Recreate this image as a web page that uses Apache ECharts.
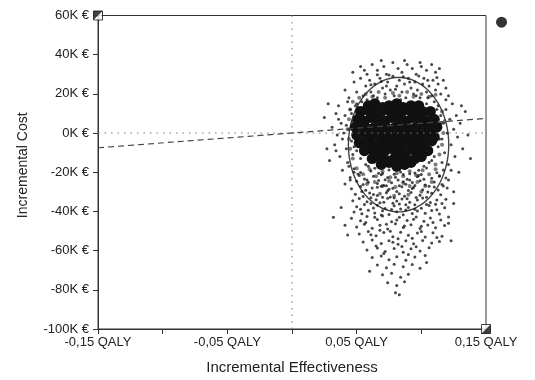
<!DOCTYPE html>
<html>
<head>
<meta charset="utf-8">
<title>Cost-effectiveness plane</title>
<script src="https://cdn.jsdelivr.net/npm/echarts@6.0.0/dist/echarts.min.js"></script>
<style>
  html, body { margin: 0; padding: 0; background: #fff; }
  #chart { width: 535px; height: 380px; }
</style>
</head>
<body>
<div id="chart"></div>
<script>
// tick labels (x: every 0.05 QALY, label every other one; y: K €)
var xTickLabels = ['-0,15 QALY', '', '-0,05 QALY', '', '0,05 QALY', '', '0,15 QALY'];
var yTickLabels = ['-100K €', '-80K €', '-60K €', '-40K €', '-20K €', '0K €', '20K €', '40K €', '60K €'];

// reference lines (cost in K €)
var zeroCostLine = [[-0.15, 0], [0.15, 0]];
var zeroEffectLine = [[0, -100], [0, 60]];
var wtpLine = [[-0.15, -7.5], [0.15, 7.5]];

// confidence ellipse: centre x, centre y, half width (QALY), half height (K €)
var ellipse95 = [[0.0824, -5.9, 0.0388, 34.3]];

var cornerTopLeft = [[-0.15, 60]];
var cornerBottomRight = [[0.15, -100]];
var outsideMarker = [[0.162, 56.6]];

// dense middle of the simulation cloud
var coreCloud = [
  [0.059,14],[0.064,15],[0.070,13],[0.075,14],[0.081,15],[0.086,13],[0.092,14],[0.098,14],
  [0.053,11],[0.058,12],[0.063,10],[0.069,11],[0.074,12],[0.079,10],[0.085,11],[0.090,12],[0.096,10],[0.101,11],[0.107,11],
  [0.051,7],[0.056,6],[0.061,8],[0.066,7],[0.072,6],[0.077,8],[0.082,7],[0.088,6],[0.093,8],[0.099,7],[0.104,6],[0.110,7],
  [0.049,3],[0.054,4],[0.059,2],[0.064,3],[0.069,4],[0.075,2],[0.080,3],[0.085,4],[0.091,2],[0.096,3],[0.102,4],[0.107,2],[0.112,3],
  [0.050,-1],[0.056,0],[0.061,-2],[0.067,-1],[0.072,0],[0.077,-2],[0.083,-1],[0.088,0],[0.094,-2],[0.099,-1],[0.105,0],[0.110,-2],
  [0.052,-5],[0.058,-4],[0.063,-6],[0.069,-5],[0.074,-4],[0.080,-6],[0.085,-5],[0.091,-4],[0.096,-6],[0.102,-5],[0.108,-4],
  [0.056,-9],[0.061,-8],[0.067,-10],[0.072,-9],[0.078,-8],[0.083,-10],[0.089,-9],[0.094,-8],[0.100,-10],[0.105,-9],
  [0.062,-13],[0.068,-12],[0.073,-14],[0.079,-13],[0.084,-12],[0.090,-14],[0.095,-13],[0.100,-12],
  [0.069,-16],[0.075,-15],[0.081,-17],[0.087,-16],[0.092,-15]
];

// half-dense ring around the middle
var midCloud = [
  [0.052,18],[0.057,20],[0.062,18.5],[0.067,21],[0.072,18],[0.078,20.5],[0.083,19],[0.089,21],[0.094,18.5],[0.100,20],[0.106,18.5],[0.111,19.5],
  [0.045,12],[0.044,7],[0.043,2],[0.044,-3],[0.045,-8],[0.047,-13],[0.047,16],
  [0.116,11],[0.118,6],[0.117,0],[0.116,-6],[0.114,-11],[0.111,-16],
  [0.050,-18],[0.055,-21],[0.060,-18.5],[0.065,-22],[0.070,-19.5],[0.076,-22.5],[0.081,-20.5],[0.086,-22],[0.091,-19.5],[0.096,-21.5],[0.101,-19],[0.106,-21],[0.111,-18.5],
  [0.058,-26],[0.064,-25],[0.070,-27],[0.075,-24.5],[0.080,-27.5],[0.086,-25.5],[0.091,-27],[0.097,-25],[0.103,-27],[0.108,-25],
  [0.068,-31],[0.079,-32],[0.090,-31.5],[0.100,-30]
];

// the rest of the cloud
var outerCloud = [
  // above the ellipse
  [0.047,31],[0.053,34],[0.058,30],[0.062,35],[0.066,32],[0.071,34],[0.073,30],[0.078,36],[0.082,33],[0.085,31],
  [0.089,35],[0.093,33],[0.096,30],[0.100,34],[0.104,32],[0.108,35],[0.111,31],[0.114,33],[0.069,37],[0.087,37],
  [0.056,32],[0.099,36],
  // upper part of the ellipse
  [0.041,22],[0.044,18],[0.048,26],[0.050,21],[0.053,28],[0.055,19],[0.057,24],[0.060,27],[0.061,21],[0.064,25],
  [0.066,18],[0.068,28],[0.070,23],[0.072,20],[0.074,26],[0.076,22],[0.078,29],[0.079,19],[0.081,24],[0.083,27],
  [0.085,21],[0.087,25],[0.088,18],[0.090,28],[0.092,23],[0.094,20],[0.095,26],[0.097,22],[0.099,18],[0.101,25],
  [0.102,28],[0.104,21],[0.106,24],[0.108,19],[0.109,27],[0.111,22],[0.113,25],[0.115,20],[0.117,27],[0.119,23],
  [0.121,19],[0.058,17],[0.084,17],[0.073,24],[0.096,19],[0.063,19],[0.105,18],
  [0.061,24.6],[0.069,26.3],[0.075,29.6],[0.086,28.7],[0.091,26.0],[0.098,29.1],[0.105,26.9],[0.080,22.3],[0.066,29.8],[0.112,28.4],
  // left flank
  [0.031,3],[0.033,-6],[0.034,10],[0.035,-1],[0.036,14],[0.037,-12],[0.038,5],[0.039,-19],[0.040,0],[0.041,9],
  [0.042,-8],[0.043,16],[0.043,-15],[0.044,2],[0.045,-24],[0.045,12],[0.046,-4],[0.047,6],[0.047,-11],[0.048,-20],
  [0.049,14],[0.049,-2],[0.039,-3],[0.036,7],[0.041,-26],[0.044,-17],[0.046,10],[0.048,-7],[0.034,-9],[0.042,4],
  [0.025,8],[0.027,-8],[0.029,-14],[0.028,15],
  // right flank
  [0.113,14],[0.115,9],[0.116,-3],[0.117,5],[0.118,-10],[0.119,12],[0.120,0],[0.121,-16],[0.122,7],[0.123,-6],
  [0.124,15],[0.125,2],[0.126,-12],[0.127,9],[0.128,-2],[0.129,-20],[0.130,5],[0.132,-8],[0.134,11],[0.136,-1],
  [0.138,-13],[0.114,-22],[0.117,-27],[0.121,-24],[0.125,-30],[0.119,17],[0.131,14],[0.114,3],[0.116,-15],[0.123,-19],
  // edge of the dense middle
  [0.050,15],[0.052,9],[0.050,-9],[0.053,-13],[0.057,-16],[0.112,12],[0.113,-7],[0.110,-12],[0.106,-15],[0.104,15],
  [0.054,16],[0.110,16],[0.115,5],[0.049,-5],[0.051,13],[0.108,-14],[0.059,-17],[0.102,-17],[0.114,-3],[0.048,8],
  // lower part of the ellipse
  [0.048,-18.2],[0.053,-20.1],[0.061,-19.4],[0.064,-17.9],[0.070,-20.6],[0.075,-18.8],[0.084,-19.9],[0.087,-18.1],[0.095,-20.4],[0.098,-19.0],[0.104,-17.8],[0.112,-20.2],[0.117,-18.9],
  [0.045,-22.7],[0.052,-21.6],[0.056,-23.4],[0.063,-22.1],[0.069,-21.3],[0.072,-23.8],[0.080,-22.5],[0.086,-21.2],[0.089,-23.6],[0.097,-22.3],[0.100,-21.1],[0.108,-23.1],[0.114,-21.8],[0.119,-22.9],
  [0.050,-24.6],[0.055,-26.3],[0.059,-25.1],[0.067,-24.2],[0.071,-26.7],[0.077,-25.4],[0.082,-24.0],[0.088,-26.1],[0.093,-25.2],[0.099,-24.4],[0.103,-26.5],[0.110,-25.0],[0.116,-26.2],
  [0.046,-28.4],[0.053,-27.3],[0.057,-29.2],[0.062,-28.0],[0.069,-27.1],[0.074,-29.5],[0.078,-28.2],[0.085,-27.4],[0.090,-29.3],[0.094,-27.8],[0.101,-28.9],[0.106,-27.2],[0.113,-29.1],[0.120,-28.1],
  [0.049,-31.2],[0.055,-32.4],[0.060,-30.6],[0.066,-31.9],[0.073,-30.4],[0.076,-32.6],[0.083,-31.0],[0.087,-32.2],[0.092,-30.3],[0.099,-31.7],[0.104,-32.8],[0.108,-30.7],[0.115,-31.5],
  [0.047,-34.5],[0.052,-33.4],[0.058,-35.1],[0.065,-34.0],[0.068,-35.6],[0.074,-33.3],[0.081,-34.7],[0.085,-33.6],[0.091,-35.3],[0.097,-34.1],[0.101,-33.2],[0.107,-35.4],[0.112,-34.2],[0.119,-33.8],
  [0.050,-37.6],[0.056,-36.4],[0.063,-38.2],[0.066,-36.9],[0.072,-38.5],[0.079,-37.1],[0.083,-36.2],[0.090,-38.0],[0.095,-36.6],[0.100,-38.4],[0.106,-37.0],[0.111,-36.3],[0.118,-38.1],
  [0.048,-40.3],[0.054,-41.2],[0.059,-39.4],[0.064,-40.8],[0.070,-39.6],[0.075,-41.5],[0.081,-40.1],[0.088,-39.3],[0.093,-41.0],[0.097,-39.8],[0.103,-40.9],[0.108,-39.5],[0.114,-41.3],
  [0.067,-20.5],[0.079,-21.0],[0.091,-20.8],[0.073,-26.9],[0.086,-24.8],[0.095,-26.8],[0.070,-32.8],[0.081,-29.8],
  [0.089,-33.5],[0.078,-35.8],[0.093,-28.3],[0.066,-27.6],[0.084,-38.7],[0.074,-22.7],[0.098,-21.7],[0.061,-33.0],
  [0.051,-20.9],[0.058,-23.9],[0.066,-25.8],[0.075,-28.7],[0.083,-26.9],[0.091,-24.0],[0.102,-23.6],[0.110,-27.5],
  [0.054,-29.8],[0.063,-31.4],[0.071,-35.3],[0.079,-33.0],[0.088,-36.6],[0.096,-32.9],[0.105,-30.1],[0.116,-36.0],
  [0.053,-38.9],[0.061,-36.0],[0.069,-41.8],[0.077,-39.0],[0.086,-41.7],[0.095,-38.9],[0.104,-36.4],[0.112,-39.2],
  // tail
  [0.046,-43.5],[0.053,-44.8],[0.058,-42.6],[0.066,-44.1],[0.070,-42.3],[0.077,-45.2],[0.083,-43.0],[0.089,-44.6],[0.096,-42.8],[0.102,-45.0],[0.107,-43.3],[0.115,-44.4],[0.121,-42.9],
  [0.050,-47.9],[0.056,-46.5],[0.062,-48.6],[0.068,-47.0],[0.074,-48.9],[0.080,-46.3],[0.086,-48.2],[0.092,-46.8],[0.099,-48.7],[0.105,-46.9],[0.111,-48.3],[0.118,-47.2],
  [0.052,-51.5],[0.059,-50.3],[0.065,-52.4],[0.071,-50.8],[0.078,-52.9],[0.084,-50.6],[0.090,-52.2],[0.097,-51.0],[0.103,-53.0],[0.109,-50.9],[0.116,-52.6],
  [0.055,-55.6],[0.062,-54.6],[0.069,-56.3],[0.075,-54.9],[0.082,-56.8],[0.088,-55.0],[0.094,-56.5],[0.101,-54.8],[0.108,-56.1],[0.114,-55.3],
  [0.058,-59.7],[0.066,-58.6],[0.072,-60.4],[0.079,-58.9],[0.086,-60.8],[0.092,-59.1],[0.099,-60.2],[0.106,-58.5],
  [0.057,-45.7],[0.064,-43.0],[0.073,-46.6],[0.081,-44.4],[0.087,-47.4],[0.094,-44.0],[0.100,-47.5],[0.109,-45.6],
  [0.061,-51.9],[0.068,-49.6],[0.076,-50.1],[0.082,-53.9],[0.093,-53.7],[0.100,-50.3],[0.112,-53.3],
  [0.065,-57.6],[0.078,-55.7],[0.085,-57.9],[0.096,-58.0],[0.071,-61.5],[0.090,-62.0],
  [0.032,-43],[0.041,-47],[0.123,-55],[0.121,-46],[0.038,-38],[0.125,-36],[0.043,-52],
  [0.062,-63.5],[0.069,-62.8],[0.075,-64.6],[0.081,-63.1],[0.088,-64.9],[0.095,-63.3],[0.103,-62.5],
  [0.066,-67.4],[0.073,-68.8],[0.079,-66.9],[0.086,-68.2],[0.093,-67.1],[0.099,-69.0],
  [0.070,-72.3],[0.077,-71.5],[0.084,-73.6],[0.090,-72.0],
  [0.074,-76.4],[0.081,-77.8],[0.087,-75.9],
  [0.080,-81.5],[0.083,-82.5],[0.060,-70.5],[0.104,-66]
];

var chart = echarts.init(document.getElementById('chart'));
var labelFont = 'Liberation Sans, Arial, sans-serif';

chart.setOption({
  animation: false,
  backgroundColor: '#fff',
  grid: {
    left: 98,
    right: 49,
    top: 15.5,
    bottom: 50.5,
    show: true,
    borderColor: '#333',
    borderWidth: 1
  },
  xAxis: {
    type: 'value',
    min: -0.15,
    max: 0.15,
    interval: 0.05,
    name: 'Incremental Effectiveness',
    nameLocation: 'middle',
    nameGap: 31,
    nameTextStyle: { fontFamily: labelFont, fontSize: 15, color: '#222', verticalAlign: 'top' },
    axisLine: { onZero: false, lineStyle: { color: '#333', width: 1 } },
    axisTick: { show: true, length: 5, lineStyle: { color: '#333' } },
    splitLine: { show: false },
    axisLabel: {
      fontFamily: labelFont,
      fontSize: 13,
      color: '#222',
      margin: 7,
      hideOverlap: false,
      formatter: function (v, i) { return xTickLabels[i]; }
    }
  },
  yAxis: {
    type: 'value',
    min: -100,
    max: 60,
    interval: 20,
    name: 'Incremental Cost',
    nameLocation: 'middle',
    nameGap: 68,
    nameTextStyle: { fontFamily: labelFont, fontSize: 14, color: '#222', padding: [0, 0, 0, 14] },
    axisLine: { show: true, onZero: false, lineStyle: { color: '#333', width: 1 } },
    axisTick: { show: true, length: 5, lineStyle: { color: '#333' } },
    splitLine: { show: false },
    axisLabel: {
      fontFamily: labelFont,
      fontSize: 13,
      color: '#222',
      margin: 9,
      formatter: function (v, i) { return yTickLabels[i]; }
    }
  },
  series: [
    {
      type: 'line', data: zeroCostLine, symbol: 'none', silent: true,
      lineStyle: { color: '#777', width: 1, type: [1.5, 5] }
    },
    {
      type: 'line', data: zeroEffectLine, symbol: 'none', silent: true,
      lineStyle: { color: '#777', width: 1, type: [1.5, 5] }
    },
    {
      type: 'line', data: wtpLine, symbol: 'none', silent: true,
      lineStyle: { color: '#444', width: 1.2, type: [6, 4] }
    },
    {
      type: 'scatter', data: outerCloud, symbolSize: 3, silent: true,
      itemStyle: { color: '#1a1a1a', opacity: 0.8 }
    },
    {
      type: 'scatter', data: midCloud, symbolSize: 4, silent: true,
      itemStyle: { color: '#222', opacity: 0.6 }
    },
    {
      type: 'scatter', data: coreCloud, symbolSize: 11, silent: true,
      itemStyle: { color: '#111', opacity: 1 }
    },
    {
      type: 'custom', data: ellipse95, silent: true,
      renderItem: function (params, api) {
        var c = api.coord([api.value(0), api.value(1)]);
        var s = api.size([api.value(2), api.value(3)]);
        var pts = [];
        for (var i = 0; i < 96; i++) {
          var a = i / 96 * Math.PI * 2;
          pts.push([c[0] + s[0] * Math.cos(a), c[1] + s[1] * Math.sin(a)]);
        }
        return {
          type: 'polygon',
          shape: { points: pts },
          style: { fill: 'none', stroke: '#444', lineWidth: 1.4 }
        };
      }
    },
    {
      type: 'scatter', data: cornerTopLeft.concat(cornerBottomRight), symbol: 'rect', symbolSize: 9,
      clip: false, silent: true,
      itemStyle: { color: '#fff', borderColor: '#111', borderWidth: 1 }
    },
    {
      type: 'scatter', data: cornerTopLeft, symbol: 'path://M0,0L10,0L0,10Z', symbolSize: 9,
      clip: false, silent: true, itemStyle: { color: '#111' }
    },
    {
      type: 'scatter', data: cornerBottomRight, symbol: 'path://M10,0L10,10L0,10Z', symbolSize: 9,
      clip: false, silent: true, itemStyle: { color: '#111' }
    },
    {
      type: 'scatter', data: outsideMarker, symbolSize: 11, clip: false, silent: true,
      itemStyle: { color: '#000' }
    }
  ]
});
</script>
</body>
</html>
